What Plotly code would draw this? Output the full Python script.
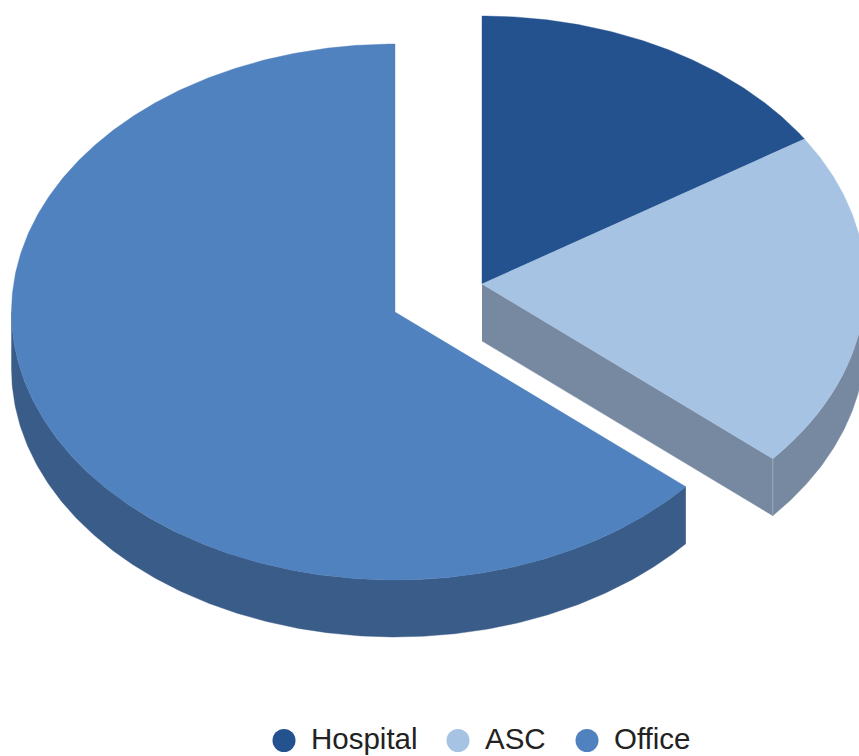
import numpy as np
import plotly.graph_objects as go

categories = ["Hospital", "ASC", "Office"]
shares = [15.9, 20.4, 63.7]
top_colors = ["#24528F", "#A6C3E4", "#4F82BE"]
side_colors = ["#1B3E6C", "#7689A1", "#3A5C88"]
pie_explode = [(482, 284), (482, 284), (395, 312)]

W, H = 859, 756
RX, RY, DEPTH = 383.5, 268, 57

fractions = np.cumsum([0] + shares) / sum(shares)
angles = 2 * np.pi * fractions


def rim(cx, cy, a0, a1, dy=0):
    t = np.linspace(a0, a1, max(2, int(abs(a1 - a0) * 120)))
    return cx + RX * np.sin(t), cy - RY * np.cos(t) + dy


fig = go.Figure()


def poly(xs, ys, color, line=None):
    fig.add_trace(go.Scatter(
        x=list(xs), y=list(ys), mode="lines", fill="toself", fillcolor=color,
        line=dict(color=line or color, width=0.4), hoverinfo="skip", showlegend=False,
    ))


# Side walls, drawn first so the top faces sit over them
for i in range(3):
    cx, cy = pie_explode[i]
    a0, a1 = angles[i], angles[i + 1]
    v0, v1 = max(a0, np.pi / 2), min(a1, 3 * np.pi / 2)
    if v1 > v0:
        x1, y1 = rim(cx, cy, v0, v1)
        x2, y2 = rim(cx, cy, v0, v1, DEPTH)
        poly(np.r_[x1, x2[::-1]], np.r_[y1, y2[::-1]], side_colors[i])
    # Cut face looking towards the viewer (end of the ASC slice)
    if categories[i] == "ASC":
        ex, ey = rim(cx, cy, a1, a1)
        ex, ey = ex[0], ey[0]
        poly([cx, ex, ex, cx], [cy, ey, ey + DEPTH, cy + DEPTH], side_colors[i])
        fig.add_trace(go.Scatter(
            x=[ex, ex], y=[ey, ey + DEPTH], mode="lines",
            line=dict(color="#9AAABD", width=1), hoverinfo="skip", showlegend=False,
        ))

# Top faces
for i in range(3):
    cx, cy = pie_explode[i]
    x, y = rim(cx, cy, angles[i], angles[i + 1])
    poly(np.r_[cx, x, cx], np.r_[cy, y, cy], top_colors[i])

# Legend row
legend_dot_x = [284, 458, 587]
legend_text_x = [310.5, 484.5, 613.5]
legend_dot_y = 740.5
legend_text_y = 738.5
fig.add_trace(go.Scatter(
    x=legend_dot_x, y=[legend_dot_y] * 3, mode="markers",
    marker=dict(size=23, color=top_colors, symbol="circle"),
    hoverinfo="skip", showlegend=False,
))
annotations = [
    dict(x=tx, y=legend_text_y, text=name, showarrow=False, xanchor="left", yanchor="middle",
         xref="x", yref="y", font=dict(family="Liberation Sans", size=29.5, color="#222222"),
         xshift=0, borderpad=0, borderwidth=0)
    for tx, name in zip(legend_text_x, categories)
]

fig.update_layout(
    width=W, height=H, margin=dict(l=0, r=0, t=0, b=0),
    paper_bgcolor="white", plot_bgcolor="white", showlegend=False,
    xaxis=dict(range=[0, W], visible=False, fixedrange=True),
    yaxis=dict(range=[H, 0], visible=False, fixedrange=True),
    annotations=annotations,
)
fig.write_html("out.html", config={"displayModeBar": False},
               post_script="document.body.style.margin='0';document.documentElement.style.overflow='hidden';")
